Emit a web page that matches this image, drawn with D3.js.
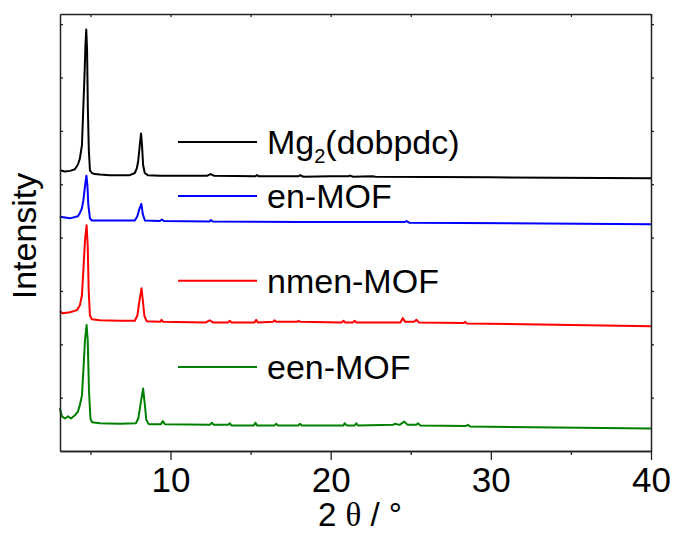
<!DOCTYPE html>
<html>
<head>
<meta charset="utf-8">
<script src="https://cdn.jsdelivr.net/npm/d3@7"></script>
<style>
  body { margin: 0; background: #fff; }
  svg { display: block; font-family: 'Liberation Sans', Arial, sans-serif; }
</style>
</head>
<body>
<svg id="chart" width="674" height="533"></svg>
<script>
// [2theta, intensity (offset, a.u.)]
const mg2Pattern = [
  [3.09, 5.26], [3.41, 5.24], [3.72, 5.25], [4.03, 5.28], [4.22, 5.37], [4.34, 5.48],
  [4.47, 5.73], [4.55, 6.39], [4.63, 7.04], [4.69, 7.61], [4.74, 7.90], [4.79, 7.51],
  [4.84, 6.39], [4.90, 5.64], [4.97, 5.26], [5.09, 5.21], [5.28, 5.19], [5.59, 5.18],
  [6.21, 5.17], [6.84, 5.17], [7.46, 5.17], [7.77, 5.21], [7.90, 5.30], [7.99, 5.45],
  [8.08, 5.73], [8.16, 5.95], [8.22, 5.73], [8.29, 5.36], [8.39, 5.21], [8.58, 5.17],
  [9.33, 5.16], [12.3, 5.16], [12.5, 5.19], [12.7, 5.16], [15.3, 5.15], [15.4, 5.17],
  [15.5, 5.15], [18.0, 5.15], [18.1, 5.17], [18.3, 5.14], [20.0, 5.15], [21.1, 5.15],
  [21.2, 5.16], [21.4, 5.14], [22.6, 5.15], [22.8, 5.14], [30.0, 5.13], [40.0, 5.11]
];
const enPattern = [
  [3.09, 4.39], [3.72, 4.36], [4.22, 4.40], [4.34, 4.46], [4.47, 4.55], [4.56, 4.70],
  [4.66, 4.96], [4.75, 5.16], [4.81, 4.98], [4.87, 4.61], [4.97, 4.36], [5.09, 4.32],
  [5.59, 4.32], [7.77, 4.32], [7.93, 4.40], [8.05, 4.53], [8.18, 4.63], [8.27, 4.44],
  [8.40, 4.32], [9.33, 4.31], [9.46, 4.34], [9.58, 4.31], [12.45, 4.30], [12.51, 4.33],
  [12.64, 4.30], [18.07, 4.29], [24.6, 4.29], [24.74, 4.31], [24.9, 4.28], [40.0, 4.25]
];
const nmenPattern = [
  [3.09, 2.62], [3.28, 2.58], [3.72, 2.60], [4.16, 2.64], [4.34, 2.73], [4.47, 2.92],
  [4.56, 3.39], [4.66, 3.95], [4.76, 4.23], [4.83, 3.86], [4.89, 3.01], [4.97, 2.54],
  [5.09, 2.47], [5.59, 2.45], [6.84, 2.44], [7.77, 2.44], [7.93, 2.54], [8.05, 2.79],
  [8.19, 3.05], [8.27, 2.83], [8.37, 2.53], [8.52, 2.43], [9.35, 2.42], [9.44, 2.46],
  [9.54, 2.42], [12.2, 2.41], [12.45, 2.45], [12.65, 2.41], [13.6, 2.41], [13.7, 2.44],
  [13.8, 2.41], [15.25, 2.41], [15.35, 2.46], [15.45, 2.41], [16.4, 2.42], [16.5, 2.45],
  [16.6, 2.42], [17.9, 2.42], [18.0, 2.44], [18.1, 2.42], [20.7, 2.41], [20.8, 2.44],
  [20.9, 2.41], [21.4, 2.41], [21.5, 2.44], [21.6, 2.41], [24.35, 2.41], [24.5, 2.49],
  [24.65, 2.42], [25.2, 2.42], [25.35, 2.46], [25.5, 2.41], [28.3, 2.40], [28.4, 2.42],
  [28.5, 2.39], [40.0, 2.34]
];
const eenPattern = [
  [3.09, 0.80], [3.22, 0.65], [3.41, 0.61], [3.60, 0.65], [3.78, 0.61], [4.03, 0.67],
  [4.22, 0.74], [4.34, 0.86], [4.47, 1.04], [4.56, 1.51], [4.66, 2.08], [4.76, 2.36],
  [4.83, 2.08], [4.91, 1.13], [5.00, 0.61], [5.09, 0.54], [5.59, 0.52], [6.84, 0.51],
  [7.84, 0.52], [7.99, 0.61], [8.12, 0.86], [8.29, 1.17], [8.40, 0.86], [8.49, 0.58],
  [8.65, 0.50], [9.40, 0.50], [9.52, 0.56], [9.65, 0.50], [12.45, 0.49], [12.58, 0.53],
  [12.7, 0.49], [13.6, 0.49], [13.7, 0.52], [13.8, 0.48], [15.2, 0.48], [15.3, 0.53],
  [15.4, 0.48], [16.5, 0.48], [16.6, 0.51], [16.7, 0.48], [18.0, 0.48], [18.07, 0.51],
  [18.2, 0.48], [20.8, 0.48], [20.87, 0.52], [21.0, 0.48], [21.5, 0.48], [21.6, 0.52],
  [21.7, 0.48], [23.9, 0.49], [24.0, 0.51], [24.3, 0.49], [24.6, 0.55], [24.8, 0.49],
  [25.35, 0.49], [25.45, 0.52], [25.6, 0.48], [28.45, 0.47], [28.57, 0.49], [28.7, 0.46],
  [40.0, 0.42]
];

const seriesNames = ['Mg2(dobpdc)', 'en-MOF', 'nmen-MOF', 'een-MOF'];
const seriesColors = ['#000000', '#0000ff', '#ff0000', '#008000'];
const patterns = [mg2Pattern, enPattern, nmenPattern, eenPattern];
const legendRows = [5.79, 4.78, 3.19, 1.575]; // legend y in data units
const xMajor = [10, 20, 30, 40];
const xMinor = [5, 15, 25, 35];
const yTicks = [1, 2, 3, 4, 5, 6, 7, 8];

const margin = { top: 14, left: 60, right: 23, bottom: 82 };
const width = 674 - margin.left - margin.right;
const height = 533 - margin.top - margin.bottom;

const svg = d3.select('#chart');
const g = svg.append('g').attr('transform', `translate(${margin.left},${margin.top})`);

const x = d3.scaleLinear().domain([3.1, 40]).range([0, width]);
const y = d3.scaleLinear().domain([0, 8.19]).range([height, 0]);

// traces
const line = d3.line().x(d => x(d[0])).y(d => y(d[1]));
g.append('g').attr('class', 'traces')
  .selectAll('path')
  .data(patterns)
  .enter()
  .append('path')
    .attr('d', line)
    .attr('fill', 'none')
    .attr('stroke', (d, i) => seriesColors[i])
    .attr('stroke-width', 2)
    .attr('stroke-linejoin', 'round');

// axes
const styleAxis = sel => {
  sel.select('.domain').attr('stroke', '#222').attr('stroke-width', 1.5);
  sel.selectAll('.tick line').attr('stroke', '#222').attr('stroke-width', 1.3);
};

g.append('g')
  .attr('transform', `translate(0,${height})`)
  .call(d3.axisBottom(x).tickValues(xMajor).tickSize(9).tickSizeOuter(0))
  .call(styleAxis)
  .call(a => a.selectAll('text')
    .attr('y', 41).attr('dy', 0)
    .attr('fill', '#000')
    .style('font-size', '35px')
    .style('font-family', "'Liberation Sans', Arial, sans-serif"));

g.append('g')
  .attr('transform', `translate(0,${height})`)
  .call(d3.axisBottom(x).tickValues(xMinor).tickSize(4).tickSizeOuter(0).tickFormat(''))
  .call(styleAxis);

g.append('g')
  .call(d3.axisTop(x).tickValues(xMinor.concat(xMajor)).tickSize(-3).tickSizeOuter(0).tickFormat(''))
  .call(styleAxis);

g.append('g')
  .call(d3.axisLeft(y).tickValues(yTicks).tickSize(-3).tickSizeOuter(0).tickFormat(''))
  .call(styleAxis);

g.append('g')
  .attr('transform', `translate(${width},0)`)
  .call(d3.axisRight(y).tickValues(yTicks).tickSize(3).tickSizeOuter(0).tickFormat(''))
  .call(styleAxis);

// legend
const legend = g.append('g').attr('class', 'legend');
seriesNames.forEach((name, i) => {
  const ly = y(legendRows[i]);
  legend.append('line')
    .attr('x1', 118).attr('x2', 197)
    .attr('y1', ly).attr('y2', ly)
    .attr('stroke', seriesColors[i])
    .attr('stroke-width', 2);
  const t = legend.append('text')
    .attr('x', 207).attr('y', ly + 12)
    .attr('fill', '#000')
    .style('font-size', '34px');
  if (i === 0) {
    t.append('tspan').text('Mg');
    t.append('tspan').text('2').attr('dy', 9).style('font-size', '20px');
    t.append('tspan').text('(dobpdc)').attr('dy', -9);
  } else {
    t.text(name);
  }
});

// axis titles
svg.append('text')
  .attr('x', 360).attr('y', 526)
  .attr('text-anchor', 'middle')
  .attr('fill', '#000')
  .style('font-size', '33px')
  .html("2 <tspan style=\"font-family:'Liberation Serif','Times New Roman',serif\">θ</tspan> / °");

svg.append('text')
  .attr('transform', 'translate(36,236) rotate(-90)')
  .attr('text-anchor', 'middle')
  .attr('fill', '#000')
  .style('font-size', '34px')
  .text('Intensity');
</script>
</body>
</html>
